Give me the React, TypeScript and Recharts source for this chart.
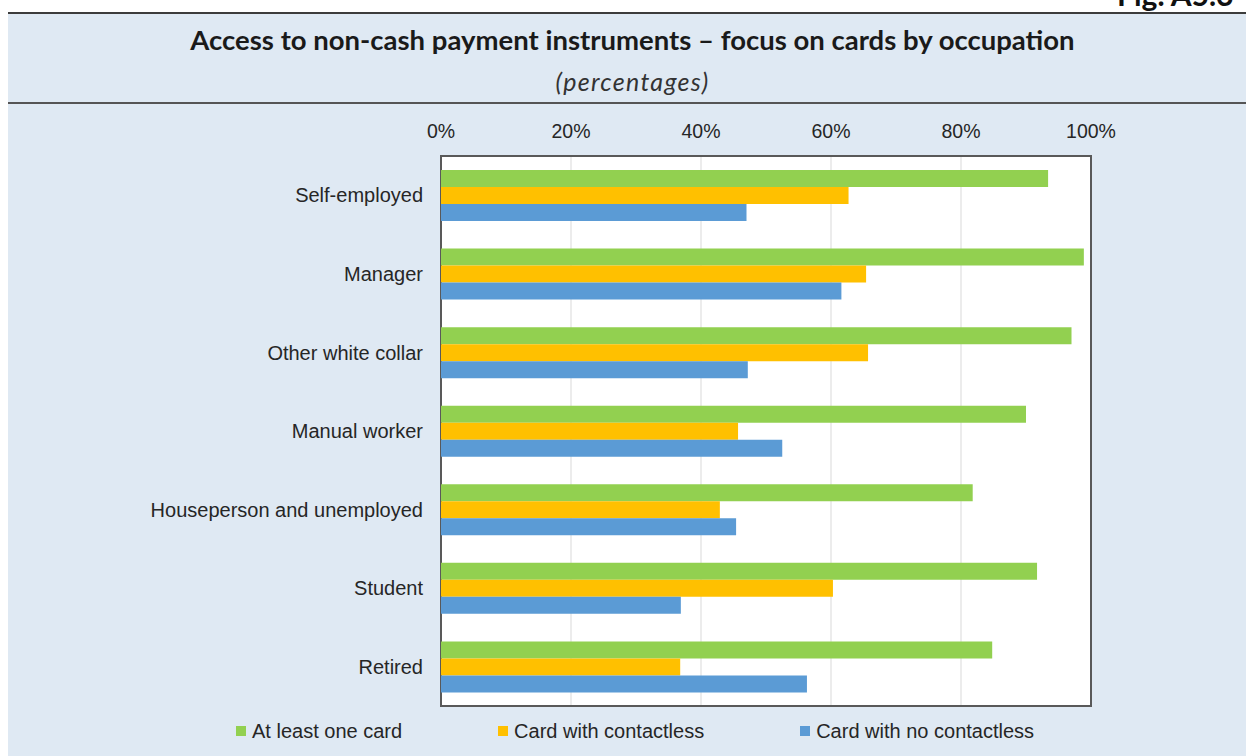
import React from 'react';
import { BarChart, Bar, XAxis, YAxis, CartesianGrid, ReferenceArea } from 'recharts';

const categories = [
  'Self-employed',
  'Manager',
  'Other white collar',
  'Manual worker',
  'Houseperson and unemployed',
  'Student',
  'Retired',
];
const atLeastOneCard = [93.4, 98.9, 97.0, 90.0, 81.8, 91.7, 84.8];
const withContactless = [62.7, 65.4, 65.7, 45.7, 42.9, 60.3, 36.8];
const noContactless = [47.0, 61.6, 47.2, 52.5, 45.4, 36.9, 56.3];
const xTicks = [0, 20, 40, 60, 80, 100];

const series = [
  { key: 'atLeastOne', name: 'At least one card', color: '#92d050' },
  { key: 'contactless', name: 'Card with contactless', color: '#ffc000' },
  { key: 'noContactless', name: 'Card with no contactless', color: '#5b9bd5' },
];

const data = categories.map((name, i) => ({
  name,
  atLeastOne: atLeastOneCard[i],
  contactless: withContactless[i],
  noContactless: noContactless[i],
}));

const PANEL = '#dfe9f3';
const TEXT = '#262626';
const sans = "'Liberation Sans', Arial, sans-serif";
const titleFont = "Lato, 'DejaVu Sans Condensed', sans-serif";

export default function App() {
  return (
    <div style={{ position: 'fixed', left: 0, top: 0, width: 1246, height: 756, background: '#fff', overflow: 'hidden' }}>
      {/* figure number, cut off at the top of the page */}
      <div style={{ position: 'absolute', left: 1117, top: -23, fontFamily: titleFont, fontWeight: 700, fontSize: 30, lineHeight: '34px', color: '#111', whiteSpace: 'nowrap' }}>
        Fig. A5.3
      </div>
      <div style={{ position: 'absolute', left: 8, top: 12, width: 1238, height: 744, background: PANEL }} />
      <div style={{ position: 'absolute', left: 8, top: 12, width: 1238, height: 2, background: '#3c3c3c' }} />
      <div style={{ position: 'absolute', left: 8, top: 102, width: 1238, height: 2, background: '#555' }} />

      <div style={{ position: 'absolute', left: 0, top: 23, width: 1265, textAlign: 'center', fontFamily: titleFont, fontWeight: 700, fontSize: 27.5, lineHeight: '34px', color: '#1a1a1a', whiteSpace: 'nowrap' }}>
        Access to non-cash payment instruments – focus on cards by occupation
      </div>
      <div style={{ position: 'absolute', left: 0, top: 66, width: 1265, textAlign: 'center', fontFamily: titleFont, fontStyle: 'italic', fontSize: 25, letterSpacing: 1.3, lineHeight: '30px', color: '#333', whiteSpace: 'nowrap' }}>
        (percentages)
      </div>

      <div style={{ position: 'absolute', left: 8, top: 100 }}>
        <BarChart
          width={1238}
          height={656}
          data={data}
          layout="vertical"
          margin={{ top: 0, right: 155, bottom: 50, left: 0 }}
          barSize={17}
          barGap={0}
        >
          <CartesianGrid horizontal={false} vertical stroke="#d9d9d9" fill="#ffffff" />
          <XAxis
            type="number"
            orientation="top"
            domain={[0, 100]}
            ticks={xTicks}
            tickFormatter={(v: number) => `${v}%`}
            axisLine={false}
            tickLine={false}
            tickMargin={12}
            height={56}
            tick={{ fontSize: 19.5, fill: TEXT, fontFamily: sans }}
          />
          <YAxis
            type="category"
            dataKey="name"
            width={433}
            axisLine={false}
            tickLine={false}
            tickMargin={12}
            interval={0}
            tick={{ fontSize: 20, fill: TEXT, fontFamily: sans }}
          />
          {series.map((s) => (
            <Bar key={s.key} dataKey={s.key} name={s.name} fill={s.color} isAnimationActive={false} />
          ))}
          <ReferenceArea x1={0} x2={100} fill="none" stroke="#595959" strokeWidth={2} ifOverflow="visible" />
        </BarChart>
      </div>

      <div style={{ position: 'absolute', left: 236, top: 717, display: 'flex', alignItems: 'center', fontFamily: sans, fontSize: 20, color: TEXT, whiteSpace: 'nowrap' }}>
        {series.map((s, i) => (
          <div key={s.key} style={{ display: 'flex', alignItems: 'center', marginRight: i < series.length - 1 ? 96 : 0, height: 28 }}>
            <span style={{ display: 'inline-block', width: 10, height: 10, background: s.color, marginRight: 6 }} />
            <span>{s.name}</span>
          </div>
        ))}
      </div>
    </div>
  );
}
